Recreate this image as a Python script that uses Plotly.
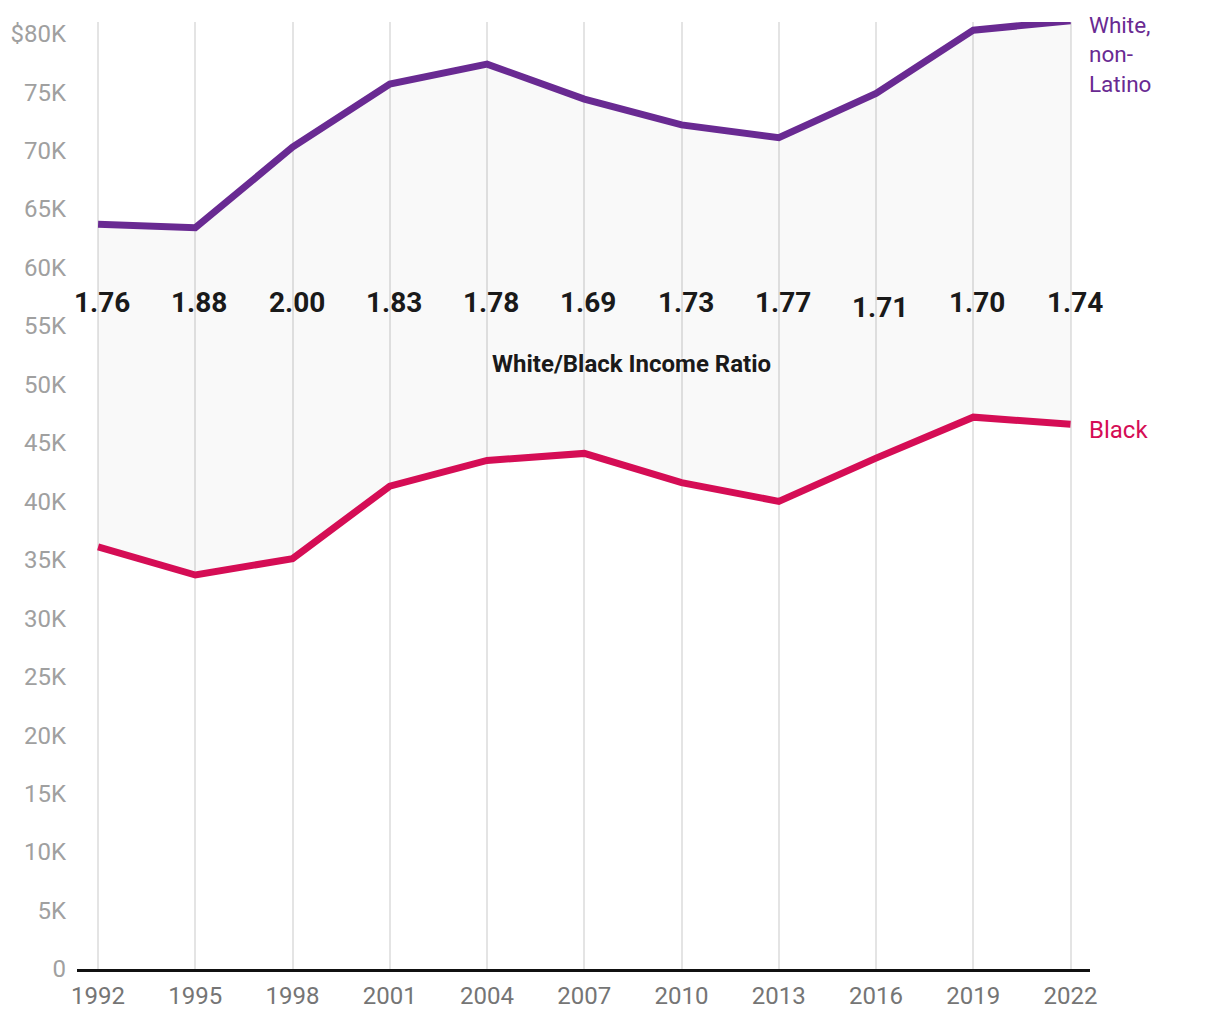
import plotly.graph_objects as go

years = [1992, 1995, 1998, 2001, 2004, 2007, 2010, 2013, 2016, 2019, 2022]
white_income = [63700, 63400, 70300, 75700, 77400, 74400, 72200, 71100, 74900, 80300, 81100]
black_income = [36100, 33700, 35100, 41300, 43500, 44100, 41600, 40000, 43700, 47200, 46600]
ratio_labels = ["1.76", "1.88", "2.00", "1.83", "1.78", "1.69", "1.73", "1.77", "1.71", "1.70", "1.74"]
ytick_vals = list(range(0, 80001, 5000))
ytick_text = ["0"] + [f"{v//1000}K" for v in ytick_vals[1:-1]] + ["$80K"]

PURPLE = "#692a92"
RED = "#d50d55"
FONT = "Roboto"

fig = go.Figure()
fig.add_trace(go.Scatter(
    x=years, y=black_income, mode="lines", cliponaxis=False,
    line=dict(color=RED, width=7), hoverinfo="skip", showlegend=False,
))
fig.add_trace(go.Scatter(
    x=years, y=white_income, mode="lines", cliponaxis=False,
    line=dict(color=PURPLE, width=7), fill="tonexty",
    fillcolor="rgba(0,0,0,0.025)", hoverinfo="skip", showlegend=False,
))

annotations = []
ratio_y = 57000
for yr, lab in zip(years, ratio_labels):
    shift = -5 if lab == "1.71" else 0
    annotations.append(dict(
        x=yr, y=ratio_y, xref="x", yref="y", text=lab, showarrow=False,
        xshift=4, yshift=shift,
        font=dict(family=FONT, size=28, color="#1a1a1a", weight=700),
    ))
annotations.append(dict(
    x=2008.45, y=51750, xref="x", yref="y", text="White/Black Income Ratio",
    showarrow=False,
    font=dict(family=FONT, size=24, color="#1a1a1a", weight=700,
              shadow="0px 0px 3px white"),
))
annotations.append(dict(
    x=years[-1], y=80000, xref="x", yref="y",
    text="White,<br>non-<br>Latino", showarrow=False, align="left",
    xanchor="left", yanchor="top", xshift=16, yshift=24,
    font=dict(family=FONT, size=22.5, color=PURPLE),
))
annotations.append(dict(
    x=years[-1], y=black_income[-1], xref="x", yref="y",
    text="Black", showarrow=False, align="left",
    xanchor="left", yanchor="middle", xshift=16, yshift=-6,
    font=dict(family=FONT, size=24, color=RED),
))

fig.update_layout(
    width=1204, height=1004,
    margin=dict(l=69, r=122, t=14, b=43, autoexpand=False),
    paper_bgcolor="white", plot_bgcolor="white",
    annotations=annotations,
    xaxis=dict(
        range=[1991.35, 2022.6], tickvals=years, ticktext=[str(y) for y in years],
        showgrid=True, gridcolor="#e4e4e4", gridwidth=1.5,
        showline=True, linecolor="#111111", linewidth=3,
        zeroline=False, ticks="", ticklabelstandoff=3, automargin=False,
        tickfont=dict(family=FONT, size=24, color="#757575"),
    ),
    yaxis=dict(
        range=[0, 81000], tickvals=ytick_vals, ticktext=ytick_text,
        showgrid=False, zeroline=False, showline=False, ticks="",
        ticklabelstandoff=10, automargin=False,
        tickfont=dict(family=FONT, size=24, color="#a0a0a0"),
    ),
)

fig.write_html("out.html")
